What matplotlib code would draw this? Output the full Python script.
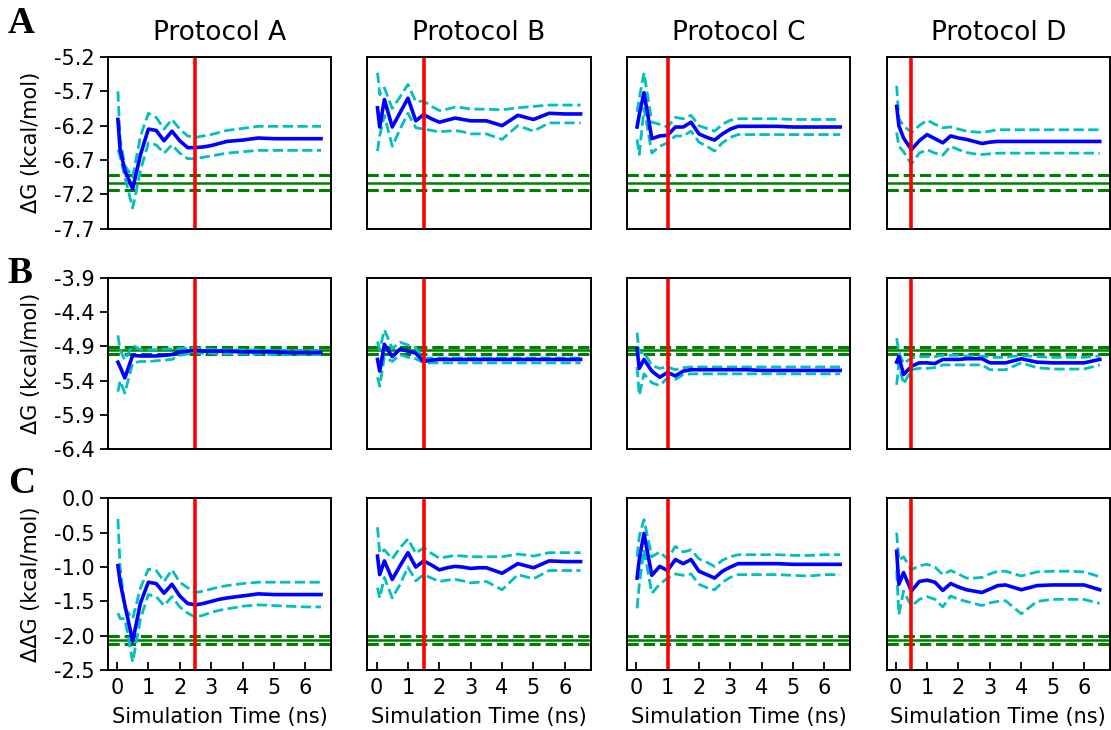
import matplotlib
matplotlib.use('Agg')
import matplotlib.pyplot as plt
import numpy as np

plt.rcParams['axes.unicode_minus'] = False

# simulation time points (ns), shared by all panels
time_ns = [0.03, 0.1, 0.25, 0.5, 0.75, 1.0, 1.25, 1.5, 1.75, 2.0, 2.25, 2.5,
           2.75, 3.0, 3.25, 3.5, 4.0, 4.5, 5.0, 5.5, 6.0, 6.5]

protocols = ['Protocol A', 'Protocol B', 'Protocol C', 'Protocol D']
row_letters = ['A', 'B', 'C']
row_ylabels = ['\u0394G (kcal/mol)', '\u0394G (kcal/mol)', '\u0394\u0394G (kcal/mol)']
row_ylims = [(-7.7, -5.2), (-6.4, -3.9), (-2.5, 0.0)]
row_yticks = [[-7.7, -7.2, -6.7, -6.2, -5.7, -5.2],
              [-6.4, -5.9, -5.4, -4.9, -4.4, -3.9],
              [-2.5, -2.0, -1.5, -1.0, -0.5, 0.0]]

# experimental reference value and its uncertainty per row
exp_value = [-7.03, -4.96, -2.06]
exp_err = [0.11, 0.05, 0.06]

# equilibration cut-off (red line) per protocol
cutoff_ns = [2.5, 1.5, 1.0, 0.5]

# ---- row A: dG ----
dg1_mean = {
    'A': [-6.11, -6.55, -6.85, -7.12, -6.62, -6.25, -6.27, -6.42, -6.28, -6.42, -6.52, -6.52,
          -6.51, -6.49, -6.46, -6.43, -6.41, -6.38, -6.39, -6.39, -6.39, -6.39],
    'B': [-5.94, -6.22, -5.82, -6.22, -6.01, -5.80, -6.13, -6.04, -6.10, -6.15, -6.12, -6.09,
          -6.11, -6.13, -6.13, -6.13, -6.20, -6.05, -6.11, -6.02, -6.03, -6.03],
    'C': [-6.22, -6.04, -5.72, -6.39, -6.35, -6.34, -6.22, -6.22, -6.15, -6.32, -6.37, -6.41,
          -6.32, -6.25, -6.21, -6.21, -6.21, -6.21, -6.22, -6.22, -6.22, -6.22],
    'D': [-5.92, -6.20, -6.38, -6.55, -6.42, -6.33, -6.39, -6.45, -6.35, -6.38, -6.40, -6.43,
          -6.46, -6.44, -6.43, -6.43, -6.43, -6.43, -6.43, -6.43, -6.43, -6.43],
}
dg1_upper = {
    'A': [-5.70, -6.40, -6.78, -6.95, -6.35, -6.02, -6.08, -6.25, -6.11, -6.25, -6.35, -6.37,
          -6.35, -6.33, -6.30, -6.27, -6.24, -6.21, -6.21, -6.21, -6.21, -6.21],
    'B': [-5.43, -5.75, -5.65, -5.95, -5.78, -5.60, -5.85, -5.84, -5.92, -5.98, -5.96, -5.93,
          -5.94, -5.96, -5.96, -5.96, -5.97, -5.94, -5.92, -5.90, -5.90, -5.90],
    'C': [-6.00, -5.80, -5.43, -6.15, -6.18, -6.22, -6.08, -6.10, -6.05, -6.20, -6.24, -6.28,
          -6.18, -6.12, -6.10, -6.10, -6.10, -6.10, -6.11, -6.11, -6.11, -6.11],
    'D': [-5.62, -6.10, -6.20, -6.30, -6.20, -6.12, -6.18, -6.23, -6.22, -6.25, -6.28, -6.29,
          -6.30, -6.28, -6.26, -6.26, -6.26, -6.26, -6.26, -6.26, -6.26, -6.26],
}
dg1_lower = {
    'A': [-6.55, -6.65, -6.95, -7.40, -6.85, -6.45, -6.48, -6.60, -6.48, -6.60, -6.68, -6.68,
          -6.66, -6.64, -6.62, -6.60, -6.58, -6.56, -6.56, -6.56, -6.56, -6.56],
    'B': [-6.57, -6.35, -6.05, -6.50, -6.25, -6.02, -6.23, -6.25, -6.27, -6.29, -6.28, -6.27,
          -6.29, -6.32, -6.32, -6.32, -6.40, -6.20, -6.28, -6.16, -6.16, -6.16],
    'C': [-6.40, -6.62, -5.95, -6.60, -6.50, -6.45, -6.35, -6.35, -6.28, -6.44, -6.50, -6.57,
          -6.45, -6.37, -6.33, -6.33, -6.33, -6.33, -6.33, -6.33, -6.33, -6.33],
    'D': [-6.30, -6.50, -6.58, -6.76, -6.60, -6.55, -6.60, -6.63, -6.50, -6.55, -6.59, -6.61,
          -6.62, -6.61, -6.60, -6.60, -6.60, -6.60, -6.60, -6.60, -6.60, -6.60],
}

# ---- row B: dG ----
dg2_mean = {
    'A': [-5.13, -5.20, -5.36, -5.03, -5.04, -5.04, -5.04, -5.03, -5.02, -4.98, -4.97, -4.96,
          -4.97, -4.97, -4.97, -4.97, -4.98, -4.98, -4.98, -4.99, -4.99, -4.99],
    'B': [-5.09, -5.26, -4.87, -5.05, -4.94, -4.97, -5.00, -5.12, -5.10, -5.09, -5.09, -5.09,
          -5.09, -5.09, -5.09, -5.09, -5.09, -5.09, -5.09, -5.09, -5.09, -5.09],
    'C': [-4.94, -5.22, -5.09, -5.26, -5.35, -5.28, -5.33, -5.26, -5.24, -5.24, -5.24, -5.24,
          -5.24, -5.24, -5.24, -5.24, -5.25, -5.25, -5.25, -5.25, -5.25, -5.25],
    'D': [-5.13, -5.05, -5.31, -5.19, -5.14, -5.14, -5.15, -5.09, -5.09, -5.09, -5.08, -5.08,
          -5.08, -5.14, -5.14, -5.14, -5.08, -5.13, -5.14, -5.14, -5.14, -5.09],
}
dg2_upper = {
    'A': [-4.74, -4.95, -5.10, -4.88, -4.95, -4.95, -4.95, -4.94, -4.94, -4.93, -4.93, -4.93,
          -4.94, -4.94, -4.95, -4.95, -4.95, -4.95, -4.96, -4.96, -4.96, -4.96],
    'B': [-4.83, -4.95, -4.66, -4.93, -4.84, -4.88, -4.92, -5.08, -5.07, -5.07, -5.07, -5.07,
          -5.07, -5.07, -5.07, -5.07, -5.07, -5.07, -5.07, -5.07, -5.07, -5.07],
    'C': [-4.70, -5.00, -4.98, -5.18, -5.22, -5.20, -5.24, -5.21, -5.20, -5.20, -5.20, -5.20,
          -5.20, -5.20, -5.20, -5.20, -5.20, -5.20, -5.20, -5.20, -5.20, -5.20],
    'D': [-4.78, -4.98, -5.15, -5.07, -5.05, -5.05, -5.05, -5.03, -5.03, -5.03, -5.04, -5.04,
          -5.04, -5.06, -5.06, -5.06, -5.03, -5.05, -5.06, -5.06, -5.06, -5.04],
}
dg2_lower = {
    'A': [-5.56, -5.40, -5.58, -5.14, -5.12, -5.12, -5.11, -5.10, -5.09, -5.03, -5.01, -5.00,
          -5.00, -5.00, -5.01, -5.01, -5.01, -5.01, -5.02, -5.02, -5.02, -5.02],
    'B': [-5.35, -5.48, -5.05, -5.12, -5.02, -5.06, -5.08, -5.14, -5.14, -5.14, -5.14, -5.14,
          -5.14, -5.14, -5.14, -5.14, -5.14, -5.14, -5.14, -5.14, -5.14, -5.14],
    'C': [-5.20, -5.61, -5.30, -5.43, -5.47, -5.36, -5.38, -5.31, -5.30, -5.30, -5.30, -5.30,
          -5.30, -5.30, -5.30, -5.30, -5.30, -5.30, -5.30, -5.30, -5.30, -5.30],
    'D': [-5.46, -5.15, -5.45, -5.24, -5.22, -5.22, -5.21, -5.17, -5.17, -5.17, -5.17, -5.17,
          -5.17, -5.24, -5.24, -5.24, -5.14, -5.21, -5.23, -5.23, -5.23, -5.17],
}

# ---- row C: ddG ----
ddg_mean = {
    'A': [-0.98, -1.22, -1.55, -2.08, -1.52, -1.22, -1.24, -1.38, -1.25, -1.42, -1.53, -1.55,
          -1.53, -1.50, -1.47, -1.45, -1.42, -1.39, -1.40, -1.40, -1.40, -1.40],
    'B': [-0.84, -1.11, -0.91, -1.18, -0.98, -0.79, -1.00, -0.91, -0.97, -1.04, -1.01, -0.99,
          -1.00, -1.02, -1.01, -1.01, -1.09, -0.95, -1.01, -0.91, -0.92, -0.92],
    'C': [-1.16, -0.89, -0.51, -1.12, -0.99, -1.05, -0.89, -0.95, -0.89, -1.06, -1.11, -1.16,
          -1.06, -1.00, -0.95, -0.95, -0.95, -0.95, -0.96, -0.96, -0.96, -0.96],
    'D': [-0.77, -1.25, -1.08, -1.35, -1.21, -1.19, -1.22, -1.34, -1.24, -1.29, -1.33, -1.35,
          -1.37, -1.32, -1.27, -1.26, -1.33, -1.27, -1.26, -1.26, -1.26, -1.33],
}
ddg_upper = {
    'A': [-0.30, -1.00, -1.60, -1.75, -1.30, -1.03, -1.05, -1.21, -1.04, -1.22, -1.30, -1.37,
          -1.35, -1.32, -1.29, -1.27, -1.24, -1.22, -1.22, -1.22, -1.22, -1.22],
    'B': [-0.42, -0.80, -0.75, -0.88, -0.72, -0.59, -0.80, -0.72, -0.80, -0.87, -0.85, -0.83,
          -0.84, -0.85, -0.85, -0.85, -0.85, -0.81, -0.84, -0.79, -0.79, -0.79],
    'C': [-0.85, -0.55, -0.31, -0.85, -0.78, -0.88, -0.70, -0.78, -0.75, -0.88, -0.93, -0.99,
          -0.90, -0.85, -0.82, -0.82, -0.82, -0.82, -0.83, -0.83, -0.82, -0.82],
    'D': [-0.50, -0.90, -0.85, -1.04, -0.98, -0.96, -1.00, -1.11, -1.05, -1.10, -1.16, -1.16,
          -1.15, -1.10, -1.06, -1.06, -1.13, -1.07, -1.06, -1.06, -1.07, -1.14],
}
ddg_lower = {
    'A': [-1.67, -1.75, -1.75, -2.38, -1.75, -1.40, -1.43, -1.56, -1.43, -1.58, -1.67, -1.73,
          -1.70, -1.66, -1.63, -1.61, -1.57, -1.55, -1.56, -1.57, -1.58, -1.58],
    'B': [-1.30, -1.45, -1.15, -1.45, -1.25, -1.00, -1.20, -1.11, -1.16, -1.21, -1.19, -1.18,
          -1.20, -1.23, -1.22, -1.21, -1.33, -1.11, -1.17, -1.05, -1.05, -1.05],
    'C': [-1.60, -1.25, -0.75, -1.38, -1.25, -1.16, -1.10, -1.12, -1.10, -1.25, -1.30, -1.33,
          -1.22, -1.15, -1.11, -1.11, -1.11, -1.11, -1.12, -1.13, -1.11, -1.11],
    'D': [-1.05, -1.69, -1.35, -1.57, -1.47, -1.43, -1.47, -1.58, -1.42, -1.47, -1.50, -1.53,
          -1.56, -1.52, -1.50, -1.49, -1.68, -1.50, -1.47, -1.47, -1.47, -1.53],
}

rows = [(dg1_mean, dg1_upper, dg1_lower),
        (dg2_mean, dg2_upper, dg2_lower),
        (ddg_mean, ddg_upper, ddg_lower)]
keys = ['A', 'B', 'C', 'D']
letter_y = [0.968, 0.626, 0.338]

fig, axes = plt.subplots(3, 4, figsize=(11.11, 7.30), dpi=100)
fig.subplots_adjust(left=0.097, right=0.999, top=0.922, bottom=0.082,
                    wspace=0.162, hspace=0.285)

for r, (mean, upper, lower) in enumerate(rows):
    for c, key in enumerate(keys):
        ax = axes[r, c]
        ax.axhline(exp_value[r], color='g', lw=1.8)
        ax.axhline(exp_value[r] + exp_err[r], color='g', ls='--', lw=2.2)
        ax.axhline(exp_value[r] - exp_err[r], color='g', ls='--', lw=2.2)
        ax.plot(time_ns, upper[key], 'c--', lw=2)
        ax.plot(time_ns, lower[key], 'c--', lw=2)
        ax.plot(time_ns, mean[key], 'b-', lw=2.6)
        ax.axvline(cutoff_ns[c], color='r', lw=2.6)
        ax.set_ylim(row_ylims[r])
        ax.set_xticks(range(7))
        ax.set_yticks(row_yticks[r])
        for s in ax.spines.values():
            s.set_linewidth(1.4)
        if r == 0:
            ax.set_title(protocols[c], fontsize=19, pad=12)
        if r == 2:
            ax.tick_params(axis='x', direction='in', labelsize=15, length=6, width=1.3, pad=6)
            ax.set_xlabel('Simulation Time (ns)', fontsize=15, labelpad=6)
        else:
            ax.tick_params(axis='x', bottom=False, labelbottom=False)
        if c == 0:
            ax.tick_params(axis='y', labelsize=15, length=6, width=1.3)
            ax.set_ylabel(row_ylabels[r], fontsize=15, labelpad=9)
        else:
            ax.tick_params(axis='y', left=False, labelleft=False)

for r, letter in enumerate(row_letters):
    fig.text(0.007, letter_y[r], letter, fontsize=27, fontweight='bold',
             family='Liberation Serif', va='center', ha='left')

fig.savefig('out.png', dpi=100)
